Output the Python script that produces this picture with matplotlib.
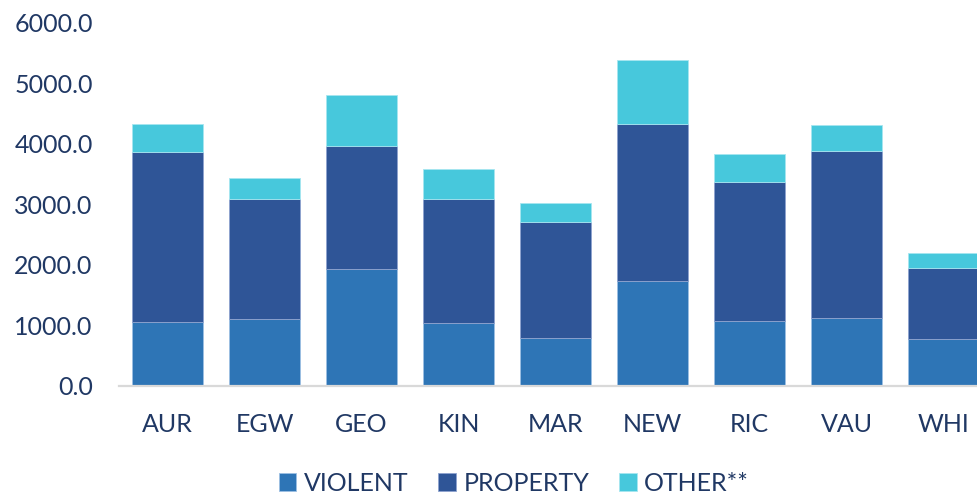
import numpy as np
import matplotlib.pyplot as plt
from matplotlib.ticker import FormatStrFormatter

areas = ['AUR', 'EGW', 'GEO', 'KIN', 'MAR', 'NEW', 'RIC', 'VAU', 'WHI']
violent = [1051, 1096, 1921, 1029, 787, 1728, 1063, 1122, 766]
prop_top = [3861, 3076, 3960, 3086, 2706, 4318, 3366, 3884, 1947]
total = [4318, 3439, 4809, 3581, 3010, 5386, 3835, 4313, 2185]

violent = np.array(violent)
property_ = np.array(prop_top) - violent
other = np.array(total) - np.array(prop_top)

c_violent = '#2E75B6'
c_property = '#2F5597'
c_other = '#47C8DC'
txt = '#203864'

plt.rcParams['font.family'] = ['Lato', 'DejaVu Sans']

fig = plt.figure(figsize=(9.78, 4.94), dpi=100)
ax = fig.add_axes([0.1217, 0.2192, 0.8926, 0.7353])

x = np.arange(len(areas))
w = 0.73
ax.bar(x, violent, w, color=c_violent, edgecolor='#9DBFE3', linewidth=0.6, label='VIOLENT')
ax.bar(x, property_, w, bottom=violent, color=c_property, edgecolor='#8EA3CF', linewidth=0.6, label='PROPERTY')
ax.bar(x, other, w, bottom=violent + property_, color=c_other, edgecolor='#A6E6F0', linewidth=0.6, label='OTHER**')

ax.set_xlim(-0.5, len(areas) - 0.5)
ax.set_ylim(0, 6000)
ax.set_yticks(np.arange(0, 6001, 1000))
ax.yaxis.set_major_formatter(FormatStrFormatter('%.1f'))
ax.set_xticks(x)
ax.set_xticklabels(areas)

for s in ['top', 'right', 'left']:
    ax.spines[s].set_visible(False)
ax.spines['bottom'].set_color('#D9D9D9')
ax.spines['bottom'].set_linewidth(1.6)
ax.tick_params(axis='y', length=0, pad=19, labelsize=18, labelcolor=txt)
ax.tick_params(axis='x', length=0, pad=20, labelsize=18, labelcolor=txt)

fig.legend(loc='center', bbox_to_anchor=(514 / 978, 1 - 483 / 494), ncol=3, frameon=False,
           fontsize=18, labelcolor=txt, handlelength=0.7, handleheight=0.7,
           handletextpad=0.3, columnspacing=1.2)

fig.savefig('out.png', dpi=100)
